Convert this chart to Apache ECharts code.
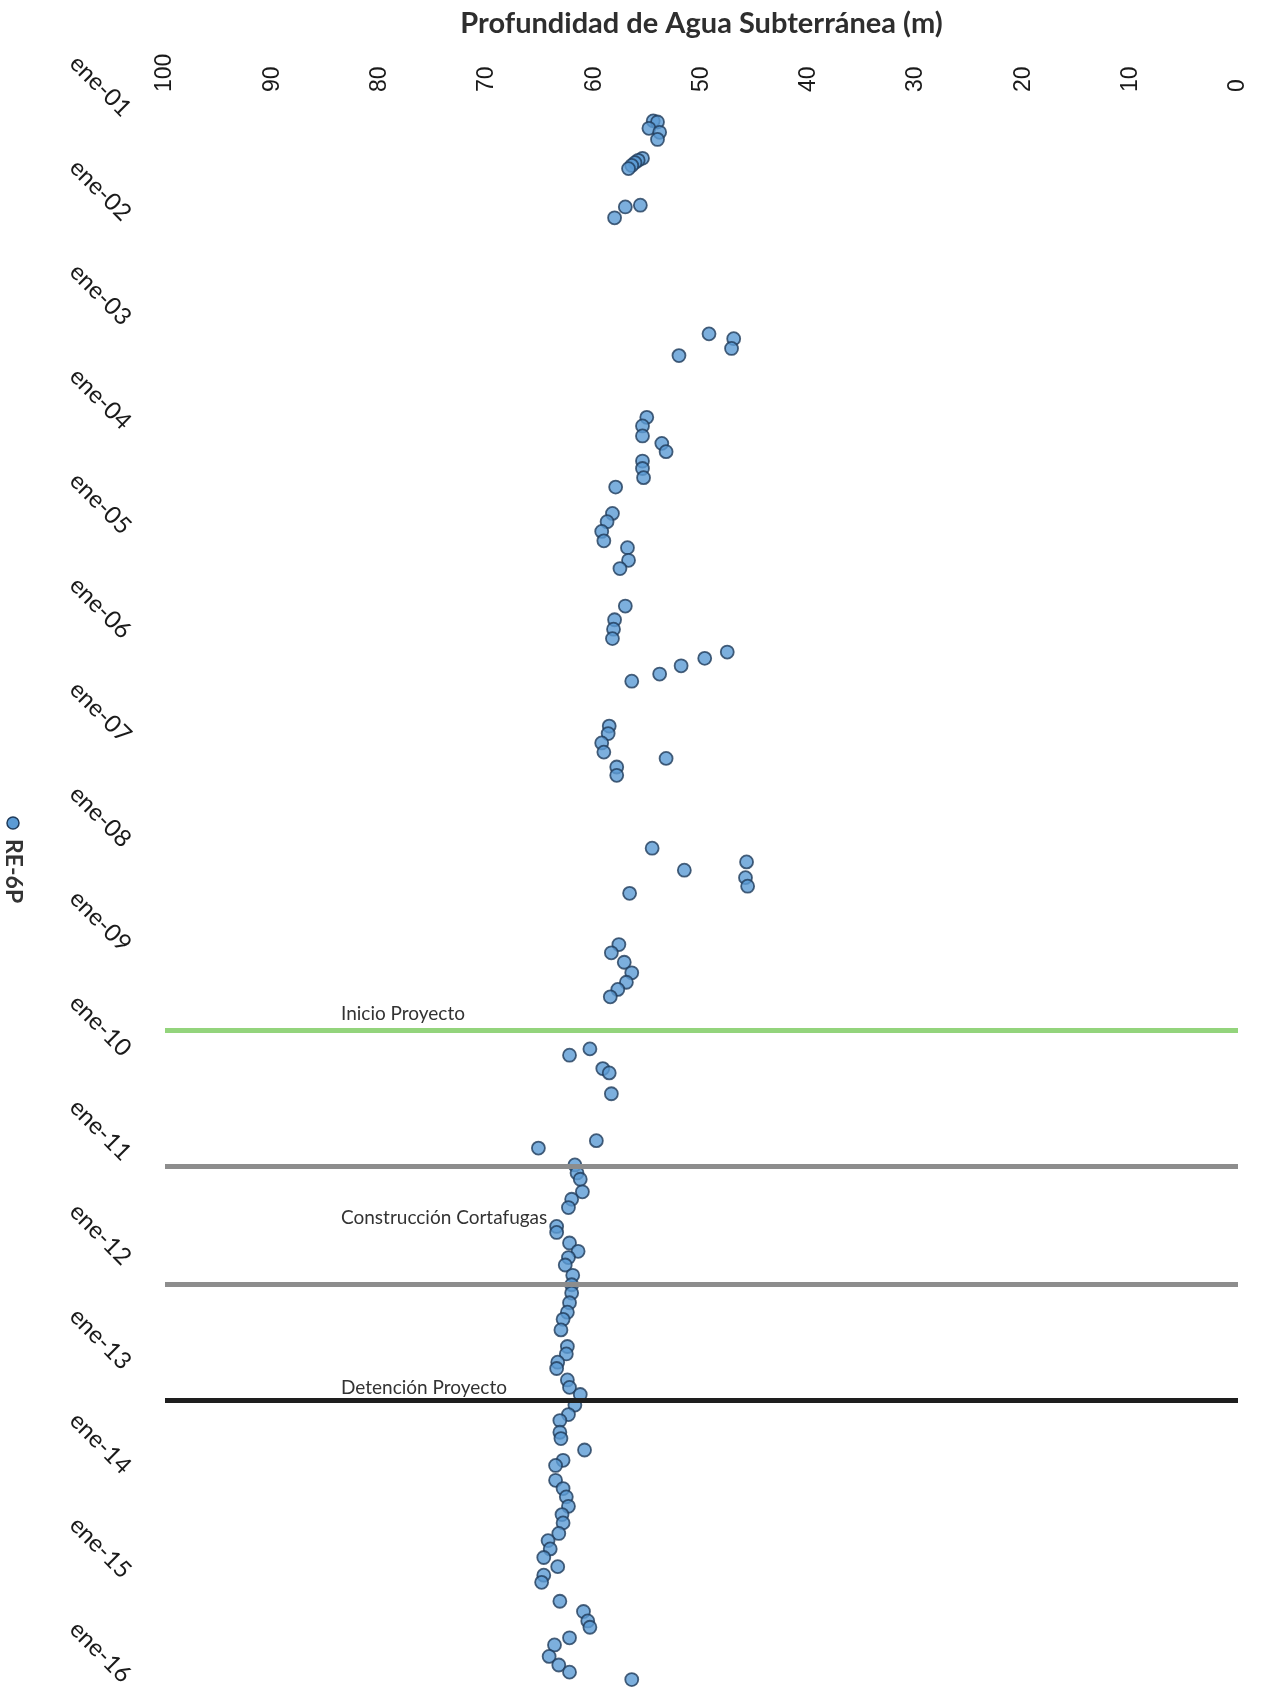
<!DOCTYPE html>
<html>
<head>
<meta charset="utf-8">
<script src="https://cdn.jsdelivr.net/npm/echarts@6/dist/echarts.min.js"></script>
<style>
  html, body { margin: 0; padding: 0; background: #ffffff; }
  #chart { width: 1262px; height: 1697px; }
</style>
</head>
<body>
<div id="chart"></div>
<script>
// Pozo de observación RE-6P: profundidad del nivel freático (m) por fecha de medición
const seriesName = 'RE-6P';

const measureDates = [
  '2001-01-30', '2001-02-03', '2001-02-25', '2001-03-11', '2001-04-05',
  '2001-06-10', '2001-06-17', '2001-06-25', '2001-07-05', '2001-07-16',
  '2001-11-21', '2001-11-27', '2002-01-04',
  '2003-02-14', '2003-03-03', '2003-04-06', '2003-05-01',
  '2003-12-03', '2004-01-02', '2004-02-06', '2004-03-03', '2004-04-01',
  '2004-05-04', '2004-05-30', '2004-07-01', '2004-08-03',
  '2004-11-03', '2004-12-02', '2005-01-05', '2005-02-07', '2005-03-03',
  '2005-04-16', '2005-05-15', '2005-09-23', '2005-11-10', '2005-12-13',
  '2006-01-15', '2006-03-03', '2006-03-25', '2006-04-20', '2006-05-19',
  '2006-06-13', '2006-11-17', '2006-12-13', '2007-01-15', '2007-02-16',
  '2007-03-10', '2007-04-09', '2007-05-08',
  '2008-01-18', '2008-03-06', '2008-04-04', '2008-04-30', '2008-05-30',
  '2008-06-24', '2008-12-20', '2009-01-18', '2009-02-20', '2009-03-29',
  '2009-05-01', '2009-05-26', '2009-06-21',
  '2009-12-20', '2010-01-11', '2010-02-27', '2010-03-14', '2010-05-26',
  '2010-11-06', '2010-12-02',
  '2011-01-30', '2011-02-27', '2011-03-21', '2011-05-04', '2011-05-30',
  '2011-06-28', '2011-09-02', '2011-09-23', '2011-10-30', '2011-11-28',
  '2011-12-20', '2012-01-15', '2012-02-20', '2012-03-24', '2012-04-22',
  '2012-05-26', '2012-06-28', '2012-07-23', '2012-08-29', '2012-10-26',
  '2012-11-21', '2012-12-20', '2013-01-11', '2013-02-20', '2013-03-18',
  '2013-04-12', '2013-05-19', '2013-06-21', '2013-07-12', '2013-08-22',
  '2013-09-13', '2013-10-23', '2013-11-28', '2013-12-16', '2014-02-06',
  '2014-03-07', '2014-04-05', '2014-05-08', '2014-06-06', '2014-07-05',
  '2014-08-11', '2014-09-05', '2014-10-04', '2014-11-03', '2014-12-05',
  '2015-01-04', '2015-01-29', '2015-04-05', '2015-05-11', '2015-06-13',
  '2015-07-05', '2015-08-11', '2015-09-05', '2015-10-15', '2015-11-14',
  '2015-12-09', '2016-01-04'
];

const depthValues = [
  54.5, 54.1, 54.9, 53.9, 54.1,
  55.5, 55.9, 56.2, 56.5, 56.8,
  55.7, 57.1, 58.1,
  49.3, 47.0, 47.2, 52.1,
  55.1, 55.5, 55.5, 53.7, 53.3,
  55.5, 55.5, 55.4, 58.0,
  58.3, 58.8, 59.3, 59.1, 56.9,
  56.8, 57.6, 57.1, 58.1, 58.2,
  58.3, 47.6, 49.7, 51.9, 53.9,
  56.5, 58.6, 58.7, 59.3, 59.1,
  53.3, 57.9, 57.9,
  54.6, 45.8, 51.6, 45.9, 45.7,
  56.7, 57.7, 58.4, 57.2, 56.5,
  57.0, 57.8, 58.5,
  60.4, 62.3, 59.2, 58.6, 58.4,
  59.8, 65.2,
  61.8, 61.6, 61.3, 61.1, 62.1,
  62.4, 63.5, 63.5, 62.3, 61.5,
  62.4, 62.7, 62.0, 62.1, 62.1,
  62.3, 62.5, 62.9, 63.1, 62.5,
  62.6, 63.4, 63.5, 62.5, 62.3,
  61.3, 61.8, 62.4, 63.2, 63.2,
  63.1, 60.9, 62.9, 63.6, 63.6,
  62.9, 62.6, 62.4, 63.0, 62.9,
  63.3, 64.3, 64.1, 64.7, 63.4,
  64.7, 64.9, 63.2, 61.0, 60.6,
  60.4, 62.3, 63.7, 64.2, 63.3,
  62.3, 56.5
];

// Ejes
const depthTickStep = 10;
const depthRange = [0, 100];
const dateRange = ['2000-11-18', '2016-03-05'];
const yearTickDates = [
  '2001-01-01', '2002-01-01', '2003-01-01', '2004-01-01', '2005-01-01',
  '2006-01-01', '2007-01-01', '2008-01-01', '2009-01-01', '2010-01-01',
  '2011-01-01', '2012-01-01', '2013-01-01', '2014-01-01', '2015-01-01',
  '2016-01-01'
];
const yearTickLabels = [
  'ene-01', 'ene-02', 'ene-03', 'ene-04', 'ene-05', 'ene-06', 'ene-07', 'ene-08',
  'ene-09', 'ene-10', 'ene-11', 'ene-12', 'ene-13', 'ene-14', 'ene-15', 'ene-16'
];

// Hitos del proyecto (líneas de fecha)
const eventLineDates = ['2009-10-15', '2011-02-02', '2012-03-21', '2013-05-01'];
const eventNames = ['Inicio Proyecto', 'Construcción Cortafugas', 'Detención Proyecto'];

// --- estilos ---
const eventLineStyles = [
  { color: '#93d47c', width: 5 },
  { color: '#8d8d8d', width: 5 },
  { color: '#8d8d8d', width: 5 },
  { color: '#1e1e1e', width: 5 }
];
// cada rótulo se ancla a una línea de hito, desplazado en píxeles
const eventLabelAnchors = [
  { line: 0, dy: -16 },
  { line: 1, dy: 52 },
  { line: 3, dy: -12 }
];
const eventLabelDepth = 83.6;
const markerFill = '#5b9bd5';
const markerStroke = '#1f3b5a';

function toTime(s) {
  const p = s.split('-').map(Number);
  return new Date(p[0], p[1] - 1, p[2]).getTime();
}

const yearTickTimes = yearTickDates.map(toTime);
function yearLabel(v) {
  const i = yearTickTimes.indexOf(v);
  return i >= 0 ? yearTickLabels[i] : '';
}
const points = measureDates.map((d, i) => [depthValues[i], toTime(d)]);

const chart = echarts.init(document.getElementById('chart'), null, { renderer: 'canvas' });

chart.setOption({
  backgroundColor: '#ffffff',
  animation: false,
  grid: { left: 165, right: 24, top: 100, bottom: 0, containLabel: false, outerBoundsMode: 'none' },
  xAxis: {
    type: 'value',
    position: 'top',
    inverse: true,
    min: depthRange[0],
    max: depthRange[1],
    interval: depthTickStep,
    name: 'Profundidad de Agua Subterránea (m)',
    nameLocation: 'middle',
    nameGap: 62,
    nameTextStyle: { fontFamily: 'Lato', fontWeight: 'bold', fontSize: 29, color: '#2e2e2e' },
    axisLine: { show: false },
    axisTick: { show: false },
    splitLine: { show: false },
    axisLabel: {
      rotate: -90,
      margin: 8,
      fontFamily: 'Liberation Sans',
      fontSize: 23,
      color: '#1a1a1a'
    }
  },
  yAxis: {
    type: 'value',
    inverse: true,
    position: 'left',
    min: toTime(dateRange[0]),
    max: toTime(dateRange[1]),
    axisLine: { show: false },
    axisTick: { show: false },
    splitLine: { show: false },
    axisLabel: {
      rotate: -45,
      margin: 38,
      customValues: yearTickTimes,
      formatter: v => yearLabel(v),
      fontFamily: 'Lato',
      fontSize: 24,
      color: '#1a1a1a'
    }
  },
  series: [
    {
      name: 'hitos',
      type: 'scatter',
      data: [],
      z: 1,
      silent: true,
      markLine: {
        silent: true,
        symbol: ['none', 'none'],
        label: { show: false },
        data: eventLineDates.map((d, i) => ({
          yAxis: toTime(d),
          lineStyle: { type: 'solid', color: eventLineStyles[i].color, width: eventLineStyles[i].width }
        }))
      },
      markPoint: {
        silent: true,
        symbol: 'circle',
        symbolSize: 0,
        data: eventNames.map((name, i) => ({
          coord: [eventLabelDepth, toTime(eventLineDates[eventLabelAnchors[i].line])],
          label: {
            show: true,
            formatter: name,
            position: 'right',
            distance: 0,
            offset: [0, eventLabelAnchors[i].dy],
            fontFamily: 'Lato',
            fontSize: 19,
            color: '#333333'
          }
        }))
      }
    },
    {
      name: seriesName,
      type: 'scatter',
      z: 3,
      symbol: 'circle',
      symbolSize: 13,
      data: points,
      itemStyle: { color: markerFill, borderColor: markerStroke, borderWidth: 1.8 }
    }
  ],
  graphic: [
    {
      type: 'group',
      x: 13,
      y: 823,
      rotation: -Math.PI / 2,
      children: [
        {
          type: 'circle',
          shape: { cx: 0, cy: 0, r: 6 },
          style: { fill: markerFill, stroke: markerStroke, lineWidth: 1.5 }
        },
        {
          type: 'text',
          x: 16,
          y: 0,
          style: {
            text: seriesName,
            font: 'bold 23px Lato',
            fill: '#333333',
            verticalAlign: 'middle',
            align: 'left'
          }
        }
      ]
    }
  ]
});
</script>
</body>
</html>
